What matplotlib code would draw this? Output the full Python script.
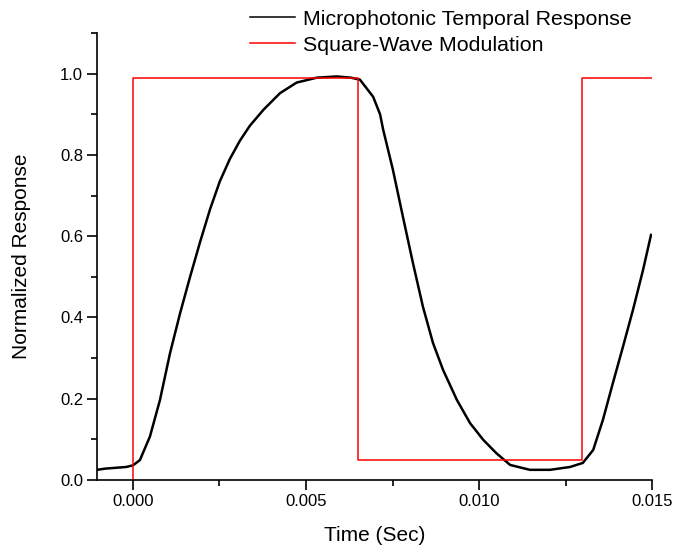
import matplotlib
matplotlib.use("Agg")
import matplotlib.pyplot as plt
from matplotlib.ticker import MultipleLocator, FuncFormatter

# Microphotonic temporal response
resp_t = [-0.00104, -0.0008, -0.0005, -0.0002, 0.0, 0.0002, 0.00049, 0.00078, 0.00107,
          0.00136, 0.00165, 0.00194, 0.00223, 0.00251, 0.0028, 0.00309, 0.00338,
          0.00377, 0.00425, 0.00473, 0.00531, 0.00589, 0.0063, 0.00656, 0.00694,
          0.00714, 0.00723, 0.00751, 0.0078, 0.00809, 0.00838, 0.00867, 0.00896,
          0.00936, 0.00974, 0.01012, 0.0105, 0.0109, 0.01147, 0.01205, 0.01263,
          0.0130, 0.0133, 0.01358, 0.01387, 0.01416, 0.01445, 0.01474, 0.01497]
resp_v = [0.025, 0.028, 0.03, 0.032, 0.036, 0.049, 0.107, 0.197, 0.312,
          0.41, 0.50, 0.586, 0.667, 0.735, 0.79, 0.835, 0.872,
          0.911, 0.952, 0.978, 0.99, 0.993, 0.99, 0.985, 0.943,
          0.90, 0.862, 0.764, 0.648, 0.534, 0.426, 0.337, 0.271,
          0.197, 0.14, 0.099, 0.066, 0.037, 0.025, 0.025, 0.032,
          0.042, 0.074, 0.148, 0.239, 0.328, 0.419, 0.517, 0.603]

# Square-wave modulation
sq_t = [0.0, 0.0, 0.00651, 0.00651, 0.01297, 0.01297, 0.0150]
sq_v = [0.0, 0.988, 0.988, 0.05, 0.05, 0.988, 0.988]

plt.rcParams['font.family'] = ['Liberation Sans', 'DejaVu Sans']

fig = plt.figure(figsize=(6.75, 5.46), dpi=100)
ax = fig.add_axes([0.1437, 0.1209, 0.966 - 0.1437, 0.9396 - 0.1209])

ax.plot(resp_t, resp_v, color='black', lw=1.8, label='Microphotonic Temporal Response')
ax.plot(sq_t, sq_v, color='red', lw=1.1, label='Square-Wave Modulation')

ax.set_xlim(-0.00104, 0.0150)
ax.set_ylim(0, 1.1)
ax.xaxis.set_major_locator(MultipleLocator(0.005))
ax.xaxis.set_minor_locator(MultipleLocator(0.0025))
ax.yaxis.set_major_locator(MultipleLocator(0.2))
ax.yaxis.set_minor_locator(MultipleLocator(0.1))
ax.xaxis.set_major_formatter(FuncFormatter(lambda v, p: f"{v:.3f}"))
ax.yaxis.set_major_formatter(FuncFormatter(lambda v, p: f"{v:.1f}"))

for s in ['top', 'right']:
    ax.spines[s].set_visible(False)
for s in ['left', 'bottom']:
    ax.spines[s].set_linewidth(1.2)
ax.tick_params(which='major', direction='out', length=7, width=1.2, labelsize=12, pad=3)
ax.tick_params(which='minor', direction='out', length=4, width=1.2)

ax.set_xlabel('Time (Sec)', fontsize=15, labelpad=12)
ax.set_ylabel('Normalized Response', fontsize=15, labelpad=21)

leg = ax.legend(loc='upper left', bbox_to_anchor=(0.276, 1.052), frameon=False,
                fontsize=15.4, handlelength=2.1, handletextpad=0.35, labelspacing=0.32,
                borderaxespad=0, borderpad=0)
for h in leg.get_lines():
    h.set_linewidth(1.1)

fig.savefig('out.png', dpi=100)
